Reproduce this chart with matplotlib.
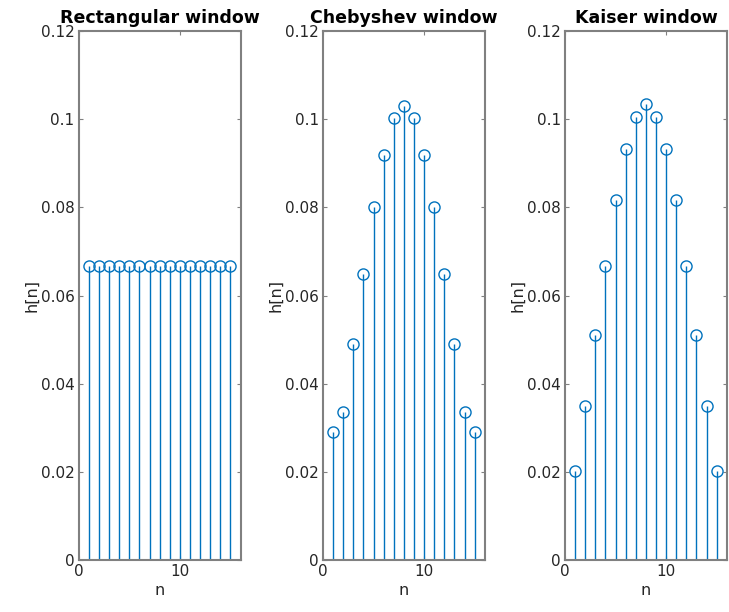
import numpy as np
import matplotlib.pyplot as plt

n = np.arange(1, 16)
rect = [0.0667] * 15
cheb = [0.0290, 0.0335, 0.0490, 0.0648, 0.0800, 0.0920, 0.1003, 0.1030,
        0.1003, 0.0920, 0.0800, 0.0648, 0.0490, 0.0335, 0.0290]
kais = [0.0203, 0.0350, 0.0510, 0.0668, 0.0818, 0.0932, 0.1005, 0.1035,
        0.1005, 0.0932, 0.0818, 0.0668, 0.0510, 0.0350, 0.0203]
titles = ['Rectangular window', 'Chebyshev window', 'Kaiser window']

fig = plt.figure(figsize=(7.29, 6.12), dpi=100)
lefts = [0.108, 0.443, 0.775]
blue = '#0072BD'
edge = '#808080'

for left, vals, title in zip(lefts, [rect, cheb, kais], titles):
    ax = fig.add_axes([left, 0.085, 0.222, 0.864])
    ml, sl, bl = ax.stem(n, vals, basefmt=' ')
    plt.setp(sl, color=blue, linewidth=1)
    plt.setp(ml, color=blue, marker='o', markerfacecolor='none',
             markersize=8, markeredgewidth=1)
    ax.set_xlim(0, 16)
    ax.set_ylim(0, 0.12)
    ax.set_xticks([0, 10])
    ax.set_yticks([0, 0.02, 0.04, 0.06, 0.08, 0.1, 0.12])
    ax.set_yticklabels(['0', '0.02', '0.04', '0.06', '0.08', '0.1', '0.12'])
    ax.tick_params(direction='in', top=True, right=True, length=3,
                   colors='#262626', labelsize=11, labelcolor='#262626', pad=3)
    ax.tick_params(color=edge)
    for s in ax.spines.values():
        s.set_color(edge)
        s.set_linewidth(1.5)
    ax.set_title(title, fontsize=12.5, fontweight='bold', pad=6)
    ax.set_xlabel('n', fontsize=11.5, color='#262626', labelpad=3)
    ax.set_ylabel('h[n]', fontsize=11.5, color='#262626', labelpad=1)

fig.savefig('out.png', dpi=100)
